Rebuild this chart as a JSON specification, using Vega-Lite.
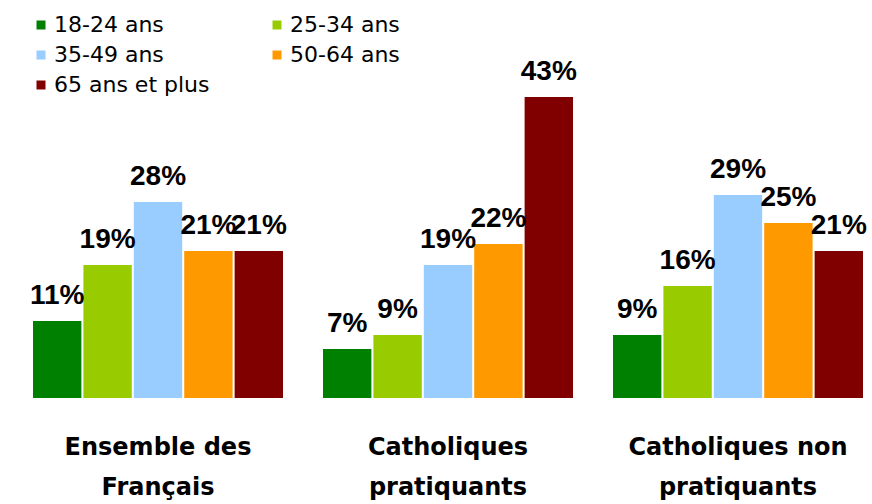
{
  "$schema": "https://vega.github.io/schema/vega-lite/v6.json",
  "width": 830,
  "height": 398,
  "autosize": {"type": "none"},
  "padding": {"left": 33, "top": 0, "right": 9, "bottom": 106},
  "background": "white",
  "config": {"view": {"stroke": null}},
  "data": {
    "values": [
      {"groupe": "Ensemble des|Français", "age": "18-24 ans", "pct": 11},
      {"groupe": "Ensemble des|Français", "age": "25-34 ans", "pct": 19},
      {"groupe": "Ensemble des|Français", "age": "35-49 ans", "pct": 28},
      {"groupe": "Ensemble des|Français", "age": "50-64 ans", "pct": 21},
      {"groupe": "Ensemble des|Français", "age": "65 ans et plus", "pct": 21},
      {"groupe": "Catholiques|pratiquants", "age": "18-24 ans", "pct": 7},
      {"groupe": "Catholiques|pratiquants", "age": "25-34 ans", "pct": 9},
      {"groupe": "Catholiques|pratiquants", "age": "35-49 ans", "pct": 19},
      {"groupe": "Catholiques|pratiquants", "age": "50-64 ans", "pct": 22},
      {"groupe": "Catholiques|pratiquants", "age": "65 ans et plus", "pct": 43},
      {"groupe": "Catholiques non|pratiquants", "age": "18-24 ans", "pct": 9},
      {"groupe": "Catholiques non|pratiquants", "age": "25-34 ans", "pct": 16},
      {"groupe": "Catholiques non|pratiquants", "age": "35-49 ans", "pct": 29},
      {"groupe": "Catholiques non|pratiquants", "age": "50-64 ans", "pct": 25},
      {"groupe": "Catholiques non|pratiquants", "age": "65 ans et plus", "pct": 21}
    ]
  },
  "encoding": {
    "x": {
      "field": "groupe",
      "type": "nominal",
      "sort": null,
      "scale": {"paddingInner": 0.1379, "paddingOuter": 0},
      "axis": {
        "title": null,
        "domain": false,
        "ticks": false,
        "labelAngle": 0,
        "labelExpr": "split(datum.label, '|')",
        "labelFont": "DejaVu Sans",
        "labelFontWeight": "bold",
        "labelFontSize": 24,
        "labelLineHeight": 40,
        "labelColor": "black",
        "labelLimit": 400,
        "labelPadding": 56,
        "labelBaseline": "alphabetic"
      }
    },
    "xOffset": {
      "field": "age",
      "type": "nominal",
      "sort": ["18-24 ans", "25-34 ans", "35-49 ans", "50-64 ans", "65 ans et plus"],
      "scale": {"paddingInner": 0.04, "paddingOuter": 0}
    },
    "y": {
      "field": "pct",
      "type": "quantitative",
      "scale": {"domain": [0, 56.857], "nice": false, "zero": true},
      "axis": null
    }
  },
  "layer": [
    {
      "mark": {"type": "bar"},
      "encoding": {
        "color": {
          "field": "age",
          "type": "nominal",
          "sort": ["18-24 ans", "25-34 ans", "35-49 ans", "50-64 ans", "65 ans et plus"],
          "scale": {
            "domain": ["18-24 ans", "25-34 ans", "35-49 ans", "50-64 ans", "65 ans et plus"],
            "range": ["#008000", "#99CC00", "#99CCFF", "#FF9900", "#800000"]
          },
          "legend": {
            "title": null,
            "orient": "none",
            "legendX": -3,
            "legendY": 14,
            "columns": 2,
            "direction": "horizontal",
            "symbolType": "square",
            "symbolSize": 81,
            "symbolStrokeWidth": 0,
            "labelFont": "DejaVu Sans",
            "labelFontSize": 22,
            "labelColor": "black",
            "labelLimit": 300,
            "rowPadding": 8,
            "columnPadding": 56,
            "labelOffset": 2
          }
        }
      }
    },
    {
      "mark": {
        "type": "text",
        "font": "Liberation Sans",
        "fontWeight": "bold",
        "fontSize": 28,
        "baseline": "alphabetic",
        "dy": -17,
        "color": "black",
        "text": {"expr": "datum.pct + '%'"}
      },
      "encoding": {}
    }
  ]
}
